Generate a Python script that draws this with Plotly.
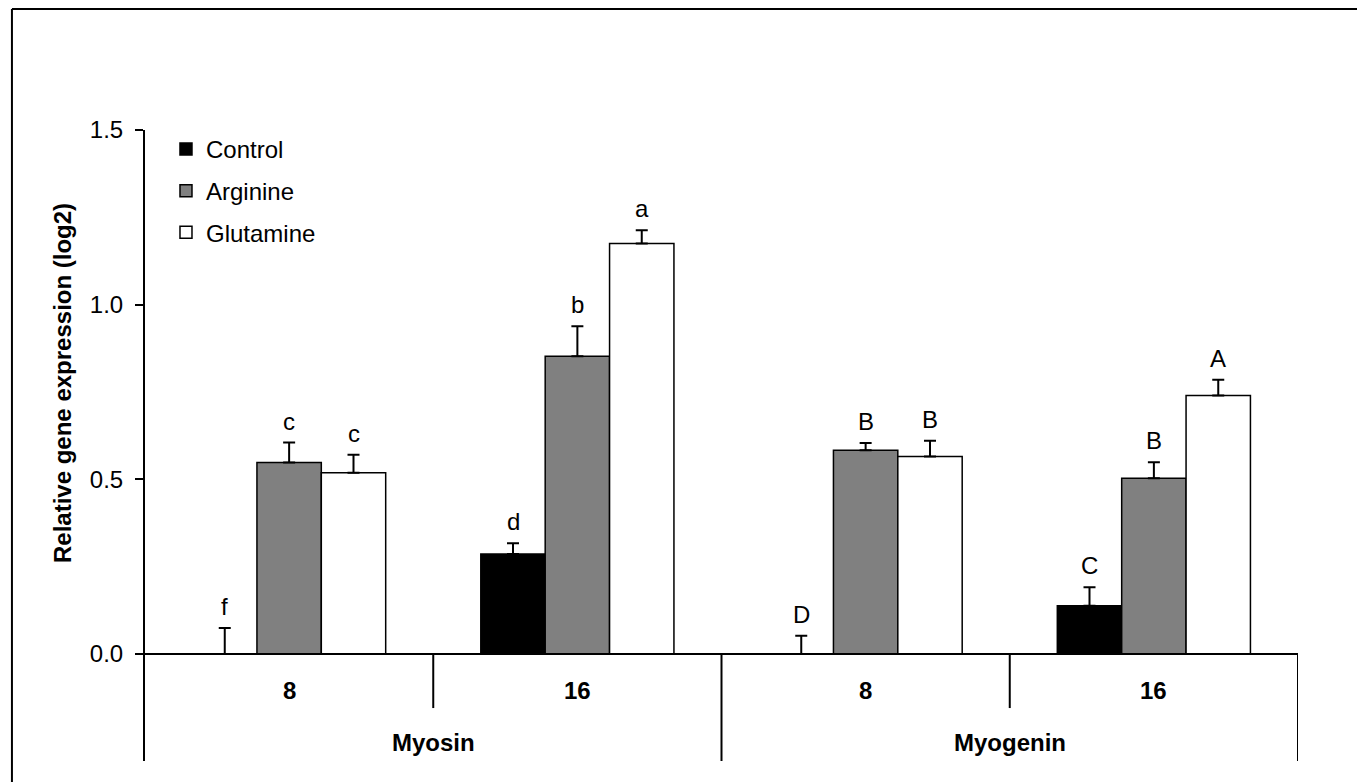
import plotly.graph_objects as go

# ---------------- data ----------------
genes = ["Myosin", "Myogenin"]
days = ["8", "16"]
categories = ["Myosin 8", "Myosin 16", "Myogenin 8", "Myogenin 16"]

control = [0.0, 0.286, 0.0, 0.138]
control_err = [0.074, 0.031, 0.052, 0.053]
control_letters = ["f", "d", "D", "C"]

arginine = [0.548, 0.852, 0.583, 0.503]
arginine_err = [0.057, 0.086, 0.021, 0.046]
arginine_letters = ["c", "b", "B", "B"]

glutamine = [0.519, 1.175, 0.565, 0.740]
glutamine_err = [0.051, 0.038, 0.045, 0.045]
glutamine_letters = ["c", "a", "B", "A"]

series_names = ["Control", "Arginine", "Glutamine"]
y_ticks = [0.0, 0.5, 1.0, 1.5]
y_ticktext = ["0.0", "0.5", "1.0", "1.5"]
y_title = "Relative gene expression (log2)"

# ---------------- style ----------------
FONT = "Liberation Sans, Arial, sans-serif"
FS = 24
fills = ["#000000", "#808080", "#ffffff"]
BARGAP = 0.33
Y_MIN = -0.3066

values = [control, arginine, glutamine]
errs = [control_err, arginine_err, glutamine_err]
letters = [control_letters, arginine_letters, glutamine_letters]

fig = go.Figure()
for k in range(3):
    fig.add_trace(go.Bar(
        x=categories, y=values[k], name=series_names[k],
        legendgroup=series_names[k],
        marker=dict(color=fills[k], line=dict(color="black", width=1.5)),
        error_y=dict(type="data", symmetric=False, array=errs[k],
                     arrayminus=[0] * len(errs[k]), color="black",
                     thickness=2, width=6),
    ))

annotations = []
w = (1 - BARGAP) / 3
for k in range(3):
    for i in range(len(categories)):
        annotations.append(dict(
            x=i + (k - 1) * w, y=values[k][i] + errs[k][i], xref="x", yref="y",
            text=letters[k][i], showarrow=False, yanchor="bottom", yshift=6,
            font=dict(family=FONT, size=FS, color="black")))

# inner category labels (days)
for i, c in enumerate(categories):
    annotations.append(dict(
        x=i, y=-0.106, xref="x", yref="y", text=days[i % 2], showarrow=False,
        yanchor="middle", font=dict(family=FONT, size=FS, color="black", weight="bold")))
# outer category labels (genes)
for g, name in enumerate(genes):
    annotations.append(dict(
        x=0.5 + 2 * g, y=-0.255, xref="x", yref="y", text=name, showarrow=False,
        yanchor="middle", font=dict(family=FONT, size=FS, color="black", weight="bold")))

# y-axis title
annotations.append(dict(
    x=-0.072, y=0.599, xref="paper", yref="paper", text=y_title, textangle=-90,
    showarrow=False, xanchor="center", yanchor="middle",
    font=dict(family=FONT, size=FS, color="black", weight="bold")))

shapes = [
    # category axis baseline
    dict(type="line", xref="x", yref="y", x0=-0.5, x1=3.5, y0=0, y1=0,
         line=dict(color="black", width=2)),
]
for b in [0.5, 2.5]:
    shapes.append(dict(type="line", xref="x", yref="y", x0=b, x1=b, y0=0, y1=-0.155,
                       line=dict(color="black", width=2)))
for b in [1.5, 3.5]:
    shapes.append(dict(type="line", xref="x", yref="y", x0=b, x1=b, y0=0, y1=Y_MIN,
                       line=dict(color="black", width=2)))
# outer frame (top and left edges visible)
shapes.append(dict(type="line", xref="paper", yref="paper", x0=-0.1154, x1=1.08,
                   y0=1.1918, y1=1.1918, line=dict(color="black", width=2)))
shapes.append(dict(type="line", xref="paper", yref="paper", x0=-0.1154, x1=-0.1154,
                   y0=-0.06, y1=1.1918, line=dict(color="black", width=2)))

fig.update_layout(
    width=1365, height=782, autosize=False,
    margin=dict(l=137, r=75, t=122, b=29),
    paper_bgcolor="white", plot_bgcolor="white",
    barmode="group", bargap=BARGAP, bargroupgap=0,
    font=dict(family=FONT, size=FS, color="black"),
    showlegend=True,
    legend=dict(x=0.0182, y=1.005, xanchor="left", yanchor="top",
                bgcolor="rgba(0,0,0,0)", font=dict(family=FONT, size=FS),
                tracegroupgap=7.5, traceorder="grouped"),
    xaxis=dict(range=[-0.5, 3.5], showticklabels=False, ticks="", showline=False,
               showgrid=False, zeroline=False),
    yaxis=dict(range=[Y_MIN, 1.5], tickvals=y_ticks, ticktext=y_ticktext,
               ticks="outside", ticklen=8, tickwidth=2, tickcolor="black",
               ticklabelstandoff=7,
               showline=True, linewidth=2, linecolor="black", showgrid=False,
               zeroline=False, tickfont=dict(family=FONT, size=FS, color="black")),
    annotations=annotations, shapes=shapes,
)

fig.write_html("out.html")
